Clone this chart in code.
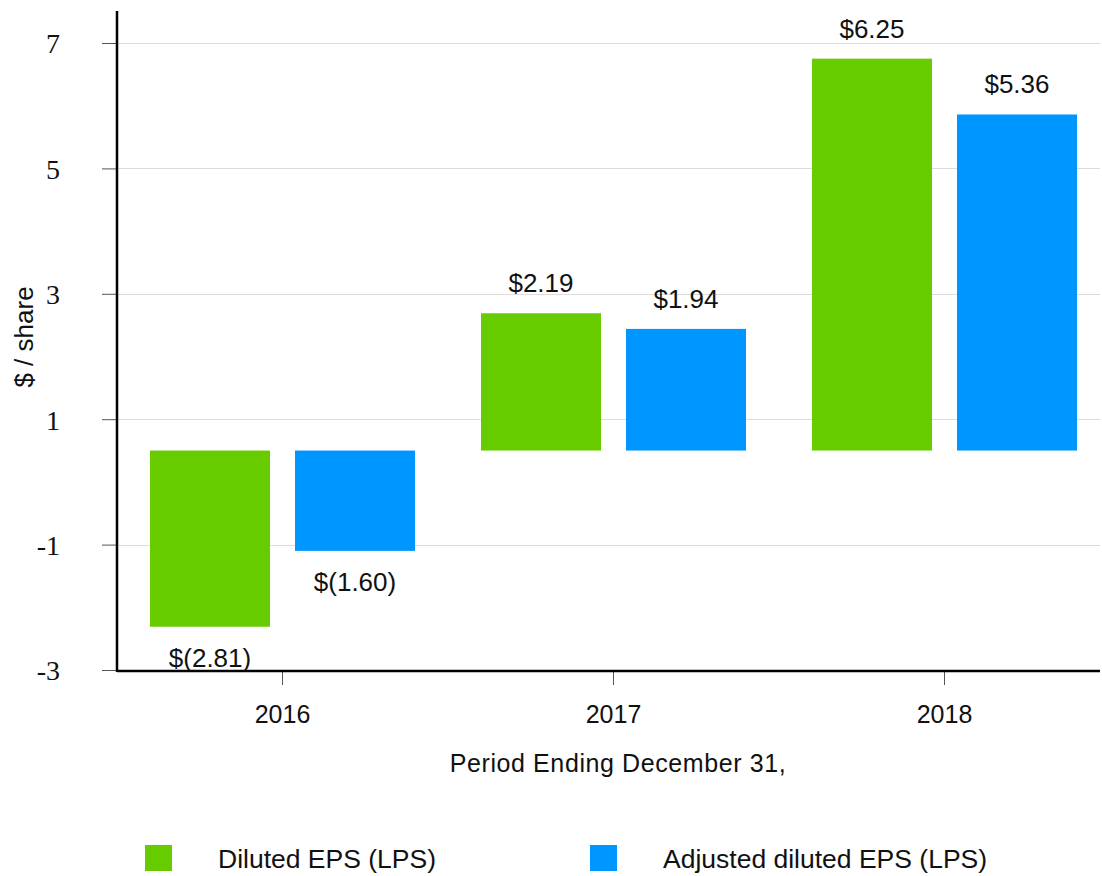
<!DOCTYPE html>
<html>
<head>
<meta charset="utf-8">
<script src="https://cdn.jsdelivr.net/npm/d3@7"></script>
<style>
  body { margin: 0; background: #fff; }
  svg text { fill: #111; }
</style>
</head>
<body>
<div id="chart"></div>
<script>
const years = ['2016', '2017', '2018']
const dilutedEps = [-2.81, 2.19, 6.25]
const adjustedEps = [-1.60, 1.94, 5.36]
const seriesNames = ['Diluted EPS (LPS)', 'Adjusted diluted EPS (LPS)']
const seriesColors = ['#66cc00', '#0096ff']
const yTicks = [-3, -1, 1, 3, 5, 7]
const barBase = 0.5

const width = 1102,
  height = 876
const left = 117,
  bottom = 671
const sans = "'Liberation Sans', Arial, sans-serif"
const serif = "'Liberation Serif', 'Times New Roman', serif"

let svg = d3
  .select('#chart')
  .append('svg')
  .attr('width', width)
  .attr('height', height)
  .attr('font-family', sans)

let x = d3
  .scaleBand()
  .domain(years)
  .range([left, left + 3 * 331])
let xInner = d3
  .scaleBand()
  .domain(seriesNames)
  .range([0, x.bandwidth()])
  .paddingInner(0.1724)
  .paddingOuter(0.2276)
let y = d3
  .scaleLinear()
  .domain([-3, 7])
  .range([670, 43])

// gridlines
svg
  .append('g')
  .selectAll('line')
  .data(yTicks)
  .enter()
  .append('line')
  .attr('x1', left)
  .attr('x2', 1100)
  .attr('y1', d => Math.round(y(d)) + 0.5)
  .attr('y2', d => Math.round(y(d)) + 0.5)
  .style('stroke', '#dcdcdc')

// y axis ticks + labels
let yAxis = svg
  .append('g')
  .attr('transform', 'translate(' + left + ',0)')
  .call(
    d3
      .axisLeft(y)
      .tickValues(yTicks)
      .tickFormat(d => String(d))
      .tickSize(15)
      .tickPadding(42)
  )
yAxis.select('.domain').remove()
yAxis.selectAll('.tick line').style('stroke', '#555')
yAxis
  .selectAll('.tick text')
  .attr('dy', '0.35em')
  .style('font-family', serif)
  .style('font-size', '28px')
  .style('fill', '#111')

// x axis ticks + labels
let xAxis = svg
  .append('g')
  .attr('transform', 'translate(0,' + bottom + ')')
  .call(
    d3
      .axisBottom(x)
      .tickSize(14)
      .tickPadding(20)
  )
xAxis.select('.domain').remove()
xAxis.selectAll('.tick line').style('stroke', '#555')
xAxis
  .selectAll('.tick text')
  .style('font-family', sans)
  .style('font-size', '25px')
  .style('fill', '#111')

// bars
let rows = years.map((yr, i) => [
  { year: yr, name: seriesNames[0], value: dilutedEps[i], color: seriesColors[0] },
  { year: yr, name: seriesNames[1], value: adjustedEps[i], color: seriesColors[1] },
])
let bars = svg
  .append('g')
  .selectAll('g.bar')
  .data(rows.flat())
  .enter()
  .append('g')
  .classed('bar', true)

bars
  .append('rect')
  .attr('x', d => x(d.year) + xInner(d.name))
  .attr('width', xInner.bandwidth())
  .attr('y', d => y(Math.max(barBase, barBase + d.value)))
  .attr('height', d => Math.abs(y(barBase + d.value) - y(barBase)))
  .style('fill', d => d.color)

bars
  .append('text')
  .attr('x', d => x(d.year) + xInner(d.name) + xInner.bandwidth() / 2)
  .attr('y', d => (d.value >= 0 ? y(barBase + d.value) - 21 : y(barBase + d.value) + 40))
  .attr('text-anchor', 'middle')
  .style('font-size', '26px')
  .text(d => (d.value >= 0 ? '$' + d.value.toFixed(2) : '$(' + Math.abs(d.value).toFixed(2) + ')'))

// axis lines
svg
  .append('line')
  .attr('x1', left)
  .attr('x2', left)
  .attr('y1', 11)
  .attr('y2', bottom + 1)
  .style('stroke', '#000')
  .style('stroke-width', 2.5)
svg
  .append('line')
  .attr('x1', left)
  .attr('x2', 1100)
  .attr('y1', bottom)
  .attr('y2', bottom)
  .style('stroke', '#000')
  .style('stroke-width', 2.5)

// axis titles
svg
  .append('text')
  .attr('x', 618)
  .attr('y', 772)
  .attr('text-anchor', 'middle')
  .style('font-size', '25px')
  .style('letter-spacing', '0.6px')
  .text('Period Ending December 31,')
svg
  .append('text')
  .attr('transform', 'translate(33,337) rotate(-90)')
  .attr('text-anchor', 'middle')
  .style('font-size', '26px')
  .text('$ / share')

// legend
let legend = svg
  .selectAll('g.legend-entry')
  .data(seriesNames)
  .enter()
  .append('g')
  .classed('legend-entry', true)
  .attr('transform', (d, i) => 'translate(' + (145 + i * 445) + ',845)')
legend
  .append('rect')
  .attr('width', 27)
  .attr('height', 26)
  .style('fill', (d, i) => seriesColors[i])
legend
  .append('text')
  .attr('x', 73)
  .attr('y', 23)
  .style('font-size', '26.5px')
  .text(d => d)
</script>
</body>
</html>
